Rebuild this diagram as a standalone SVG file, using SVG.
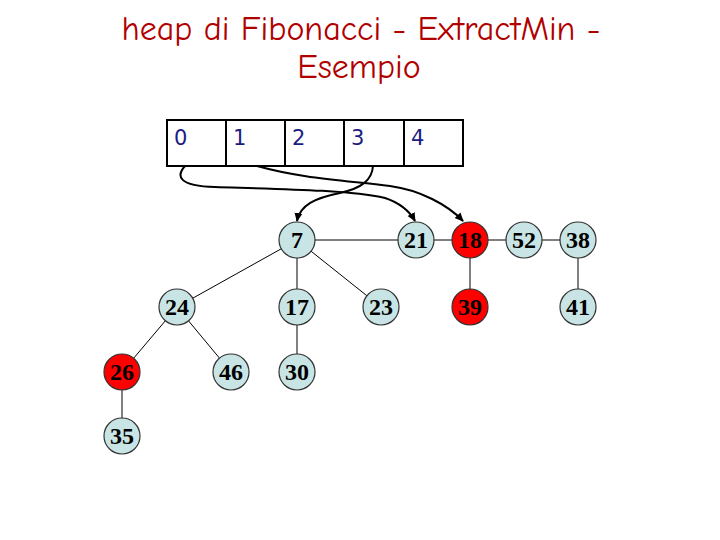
<svg xmlns="http://www.w3.org/2000/svg" width="720" height="540" viewBox="0 0 720 540">
<defs>
<marker id="ah" markerWidth="10" markerHeight="10" refX="8" refY="5" orient="auto" markerUnits="userSpaceOnUse">
<path d="M0,1 L9,5 L0,9 Z" fill="#000"/>
</marker>
<style>
.title{font-family:"Comic Neue","DejaVu Sans",sans-serif;font-size:34px;fill:#b00000;text-anchor:middle}
.idx{font-family:"DejaVu Sans",sans-serif;font-size:21px;fill:#1c1c80}
.cell{fill:#fff;stroke:#000;stroke-width:2}
.n circle{fill:#c8e4e4;stroke:#333;stroke-width:1.2}
.n.m circle{fill:#f00}
.n text{font-family:"Liberation Serif",serif;font-weight:bold;font-size:24px;fill:#000;text-anchor:middle}
.e{stroke:#000;stroke-width:1;fill:none}
.a{stroke:#000;stroke-width:2;fill:none;marker-end:url(#ah)}
</style>
</defs>
<rect width="720" height="540" fill="#fff"/>
<text class="title" x="361" y="40">heap di Fibonacci - ExtractMin -</text>
<text class="title" x="359" y="78">Esempio</text>
<g id="array">
<rect class="cell" x="167" y="120" width="59" height="46"/>
<rect class="cell" x="226" y="120" width="59" height="46"/>
<rect class="cell" x="285" y="120" width="59" height="46"/>
<rect class="cell" x="344" y="120" width="60" height="46"/>
<rect class="cell" x="404" y="120" width="59" height="46"/>
<text class="idx" x="174" y="145">0</text>
<text class="idx" x="233" y="145">1</text>
<text class="idx" x="292" y="145">2</text>
<text class="idx" x="351" y="145">3</text>
<text class="idx" x="411" y="145">4</text>
</g>
<g id="connectors">
<line class="e" x1="297" y1="240" x2="416" y2="240"/>
<line class="e" x1="297" y1="240" x2="177" y2="307"/>
<line class="e" x1="297" y1="240" x2="297" y2="307"/>
<line class="e" x1="297" y1="240" x2="381" y2="307"/>
<line class="e" x1="177" y1="307" x2="122" y2="372"/>
<line class="e" x1="177" y1="307" x2="231" y2="372"/>
<line class="e" x1="297" y1="307" x2="297" y2="372"/>
<line class="e" x1="122" y1="372" x2="122" y2="436"/>
<line class="e" x1="416" y1="240" x2="578" y2="240"/>
<line class="e" x1="470" y1="240" x2="470" y2="307"/>
<line class="e" x1="578" y1="240" x2="578" y2="307"/>
<path class="a" d="M185,166 C176,176 178,186 215,187 C280,189 350,190 385,198 C400,203 410,212 415,221"/>
<path class="a" d="M257,166 C300,178 340,180 390,186 C420,190 448,205 463,221"/>
<path class="a" d="M373,166 C372,180 362,188 340,193 C315,198 300,205 297,221"/>
</g>
<g id="n7" class="n"><circle cx="297" cy="240" r="18"/><text x="297" y="248">7</text></g>
<g id="n21" class="n"><circle cx="416" cy="240" r="18"/><text x="416" y="248">21</text></g>
<g id="n18" class="n m"><circle cx="470" cy="240" r="18"/><text x="470" y="248">18</text></g>
<g id="n52" class="n"><circle cx="524" cy="240" r="18"/><text x="524" y="248">52</text></g>
<g id="n38" class="n"><circle cx="578" cy="240" r="18"/><text x="578" y="248">38</text></g>
<g id="n24" class="n"><circle cx="177" cy="307" r="18"/><text x="177" y="315">24</text></g>
<g id="n17" class="n"><circle cx="297" cy="307" r="18"/><text x="297" y="315">17</text></g>
<g id="n23" class="n"><circle cx="381" cy="307" r="18"/><text x="381" y="315">23</text></g>
<g id="n39" class="n m"><circle cx="470" cy="307" r="18"/><text x="470" y="315">39</text></g>
<g id="n41" class="n"><circle cx="578" cy="307" r="18"/><text x="578" y="315">41</text></g>
<g id="n26" class="n m"><circle cx="122" cy="372" r="18"/><text x="122" y="380">26</text></g>
<g id="n46" class="n"><circle cx="231" cy="372" r="18"/><text x="231" y="380">46</text></g>
<g id="n30" class="n"><circle cx="297" cy="372" r="18"/><text x="297" y="380">30</text></g>
<g id="n35" class="n"><circle cx="122" cy="436" r="18"/><text x="122" y="444">35</text></g>
</svg>
